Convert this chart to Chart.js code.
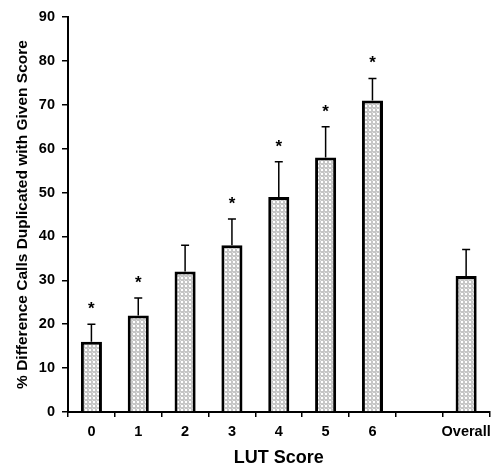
<!DOCTYPE html>
<html>
<head>
<meta charset="utf-8">
<script src="https://cdn.jsdelivr.net/npm/chart.js@4/dist/chart.umd.min.js"></script>
<style>
  html, body { margin: 0; padding: 0; background: #fff; }
  #wrap { width: 497px; height: 469px; }
</style>
</head>
<body>
<div id="wrap"><canvas id="c" width="497" height="469"></canvas></div>
<script>
// ---- data ----
const categories = ['0', '1', '2', '3', '4', '5', '6', '', 'Overall'];
const values     = [16, 22, 32, 38, 49, 58, 71, null, 31];
const errorTops  = [20, 26, 38, 44, 57, 65, 76, null, 37];
const significant = [true, true, false, true, true, true, true, false, false];
const yTicks = [0, 10, 20, 30, 40, 50, 60, 70, 80, 90];

const FONT = '"Liberation Sans", Arial, Helvetica, sans-serif';

// stippled fill pattern
function makePattern() {
  const p = document.createElement('canvas');
  p.width = 4; p.height = 4;
  const g = p.getContext('2d');
  g.fillStyle = '#c6c6c6';
  g.fillRect(0, 0, 4, 4);
  g.fillStyle = '#ffffff';
  g.fillRect(1, 1, 2, 2);
  g.fillStyle = '#e2e2e2';
  g.fillRect(0, 0, 1, 1);
  return g.createPattern(p, 'repeat');
}

const errorBarPlugin = {
  id: 'errorBars',
  afterDatasetsDraw(chart) {
    const ctx = chart.ctx;
    const meta = chart.getDatasetMeta(0);
    const y = chart.scales.y;
    ctx.save();
    ctx.strokeStyle = '#000';
    ctx.fillStyle = '#000';
    meta.data.forEach((bar, i) => {
      if (values[i] == null) return;
      const x = bar.x;
      const yv = y.getPixelForValue(values[i]);
      const ye = y.getPixelForValue(errorTops[i]);
      ctx.lineWidth = 1.5;
      ctx.beginPath();
      ctx.moveTo(x, yv);
      ctx.lineTo(x, ye);
      ctx.moveTo(x - 4, ye);
      ctx.lineTo(x + 4, ye);
      ctx.stroke();
      if (significant[i]) {
        ctx.font = 'bold 17px ' + FONT;
        ctx.textAlign = 'center';
        ctx.textBaseline = 'alphabetic';
        ctx.fillText('*', x, ye - 10);
      }
    });
    ctx.restore();
  }
};

new Chart(document.getElementById('c'), {
  type: 'bar',
  data: {
    labels: categories,
    datasets: [{
      data: values,
      backgroundColor: makePattern(),
      borderColor: '#000',
      borderWidth: 3,
      borderSkipped: 'start',
      barPercentage: 0.45,
      categoryPercentage: 1.0
    }]
  },
  options: {
    responsive: false,
    animation: false,
    layout: { padding: { top: 17, right: 5, left: 0, bottom: 0 } },
    plugins: { legend: { display: false }, tooltip: { enabled: false } },
    scales: {
      x: {
        offset: true,
        grid: { offset: true, drawOnChartArea: false, color: '#000', lineWidth: 1.5, tickLength: 5 },
        border: { display: true, color: '#000', width: 2 },
        ticks: { color: '#000', font: { family: FONT, size: 14.5, weight: 'bold' }, padding: 6, maxRotation: 0, autoSkip: false },
        title: { display: true, text: 'LUT Score', color: '#000', font: { family: FONT, size: 18, weight: 'bold' }, padding: { top: 0, bottom: 0 } },
        afterFit(s) { s.height = 57; }
      },
      y: {
        min: 0, max: 90,
        afterBuildTicks(s) { s.ticks = yTicks.map(v => ({ value: v })); },
        grid: { drawOnChartArea: false, color: '#000', lineWidth: 1.5, tickLength: 6 },
        border: { display: true, color: '#000', width: 2 },
        ticks: { color: '#000', font: { family: FONT, size: 14.5, weight: 'bold' }, padding: 7 },
        title: { display: true, text: '% Difference Calls Duplicated with Given Score', color: '#000', font: { family: FONT, size: 15.5, weight: 'bold' }, padding: { top: 13, bottom: 0 } },
        afterFit(s) { s.width = 68; }
      }
    }
  },
  plugins: [errorBarPlugin]
});
</script>
</body>
</html>
